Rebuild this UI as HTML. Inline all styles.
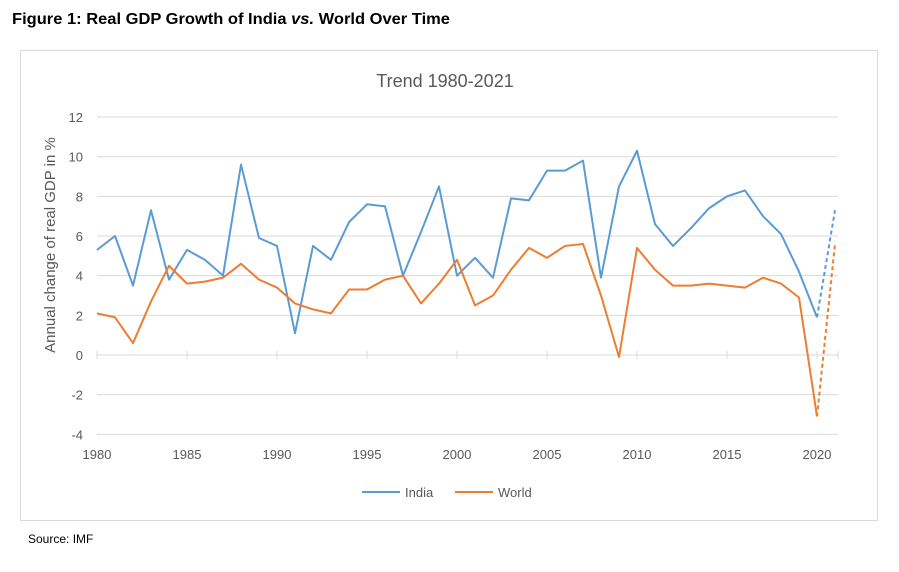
<!DOCTYPE html>
<html><head><meta charset="utf-8"><style>
body{margin:0;background:#fff;width:899px;height:567px;overflow:hidden;font-family:"Liberation Sans",sans-serif}
</style></head><body>
<svg width="899" height="567" xmlns="http://www.w3.org/2000/svg" font-family="Liberation Sans, sans-serif">
<text x="12" y="24" font-size="15.5" font-weight="bold" fill="#000" textLength="438" lengthAdjust="spacingAndGlyphs">Figure 1: Real GDP Growth of India <tspan font-style="italic">vs.</tspan> World Over Time</text>
<rect x="20.5" y="50.5" width="857" height="470" fill="#fff" stroke="#d9d9d9"/>
<text x="445" y="87" font-size="18" fill="#595959" text-anchor="middle">Trend 1980-2021</text>
<g id="grid" stroke="#d9d9d9" stroke-width="1"></g>
<g id="labels" font-size="13" fill="#595959"></g>
<text transform="translate(55,245) rotate(-90)" font-size="15" fill="#595959" text-anchor="middle">Annual change of real GDP in %</text>
<g id="series" fill="none" stroke-width="2"></g>
<line x1="362" y1="492" x2="400" y2="492" stroke="#5b9bd5" stroke-width="2"/>
<text x="405" y="497" font-size="13" fill="#595959">India</text>
<line x1="455" y1="492" x2="493" y2="492" stroke="#ed7d31" stroke-width="2"/>
<text x="498" y="497" font-size="13" fill="#595959">World</text>
<text x="28" y="543" font-size="12" fill="#000">Source: IMF</text>
</svg>
<script>
var X=function(y){return 97+(y-1980)*18},Y=function(v){return 355-v*19.83};
var g=document.getElementById('grid'),l=document.getElementById('labels'),s=document.getElementById('series'),ns='http://www.w3.org/2000/svg';
function el(p,t,a,txt){var e=document.createElementNS(ns,t);for(var k in a)e.setAttribute(k,a[k]);if(txt!=null)e.textContent=txt;p.appendChild(e);return e}
for(var v=-4;v<=12;v+=2){el(g,'line',{x1:97,x2:838,y1:Y(v),y2:Y(v)});el(l,'text',{x:83,y:Y(v)+5,'text-anchor':'end'},v)}
for(var y=1980;y<=2020;y+=5){el(g,'line',{x1:X(y),x2:X(y),y1:Y(0)-4,y2:Y(0)+4});el(l,'text',{x:X(y),y:459,'text-anchor':'middle'},y)}
el(g,'line',{x1:838,x2:838,y1:Y(0)-4,y2:Y(0)+4});
var india=[5.3,6.0,3.5,7.3,3.8,5.3,4.8,4.0,9.6,5.9,5.5,1.1,5.5,4.8,6.7,7.6,7.5,4.0,6.2,8.5,4.0,4.9,3.9,7.9,7.8,9.3,9.3,9.8,3.9,8.5,10.3,6.6,5.5,6.4,7.4,8.0,8.3,7.0,6.1,4.2,1.9,7.3];
var world=[2.1,1.9,0.6,2.7,4.5,3.6,3.7,3.9,4.6,3.8,3.4,2.6,2.3,2.1,3.3,3.3,3.8,4.0,2.6,3.6,4.8,2.5,3.0,4.3,5.4,4.9,5.5,5.6,3.0,-0.1,5.4,4.3,3.5,3.5,3.6,3.5,3.4,3.9,3.6,2.9,-3.1,5.6];
function draw(d,c){var p=[];for(var i=0;i<=40;i++)p.push(X(1980+i)+','+Y(d[i]));
el(s,'polyline',{points:p.join(' '),stroke:c,'stroke-linejoin':'round'});
el(s,'line',{x1:X(2020),y1:Y(d[40]),x2:X(2021),y2:Y(d[41]),stroke:c,'stroke-dasharray':'4,3'})}
draw(india,'#5b9bd5');draw(world,'#ed7d31');
</script>
</body></html>
